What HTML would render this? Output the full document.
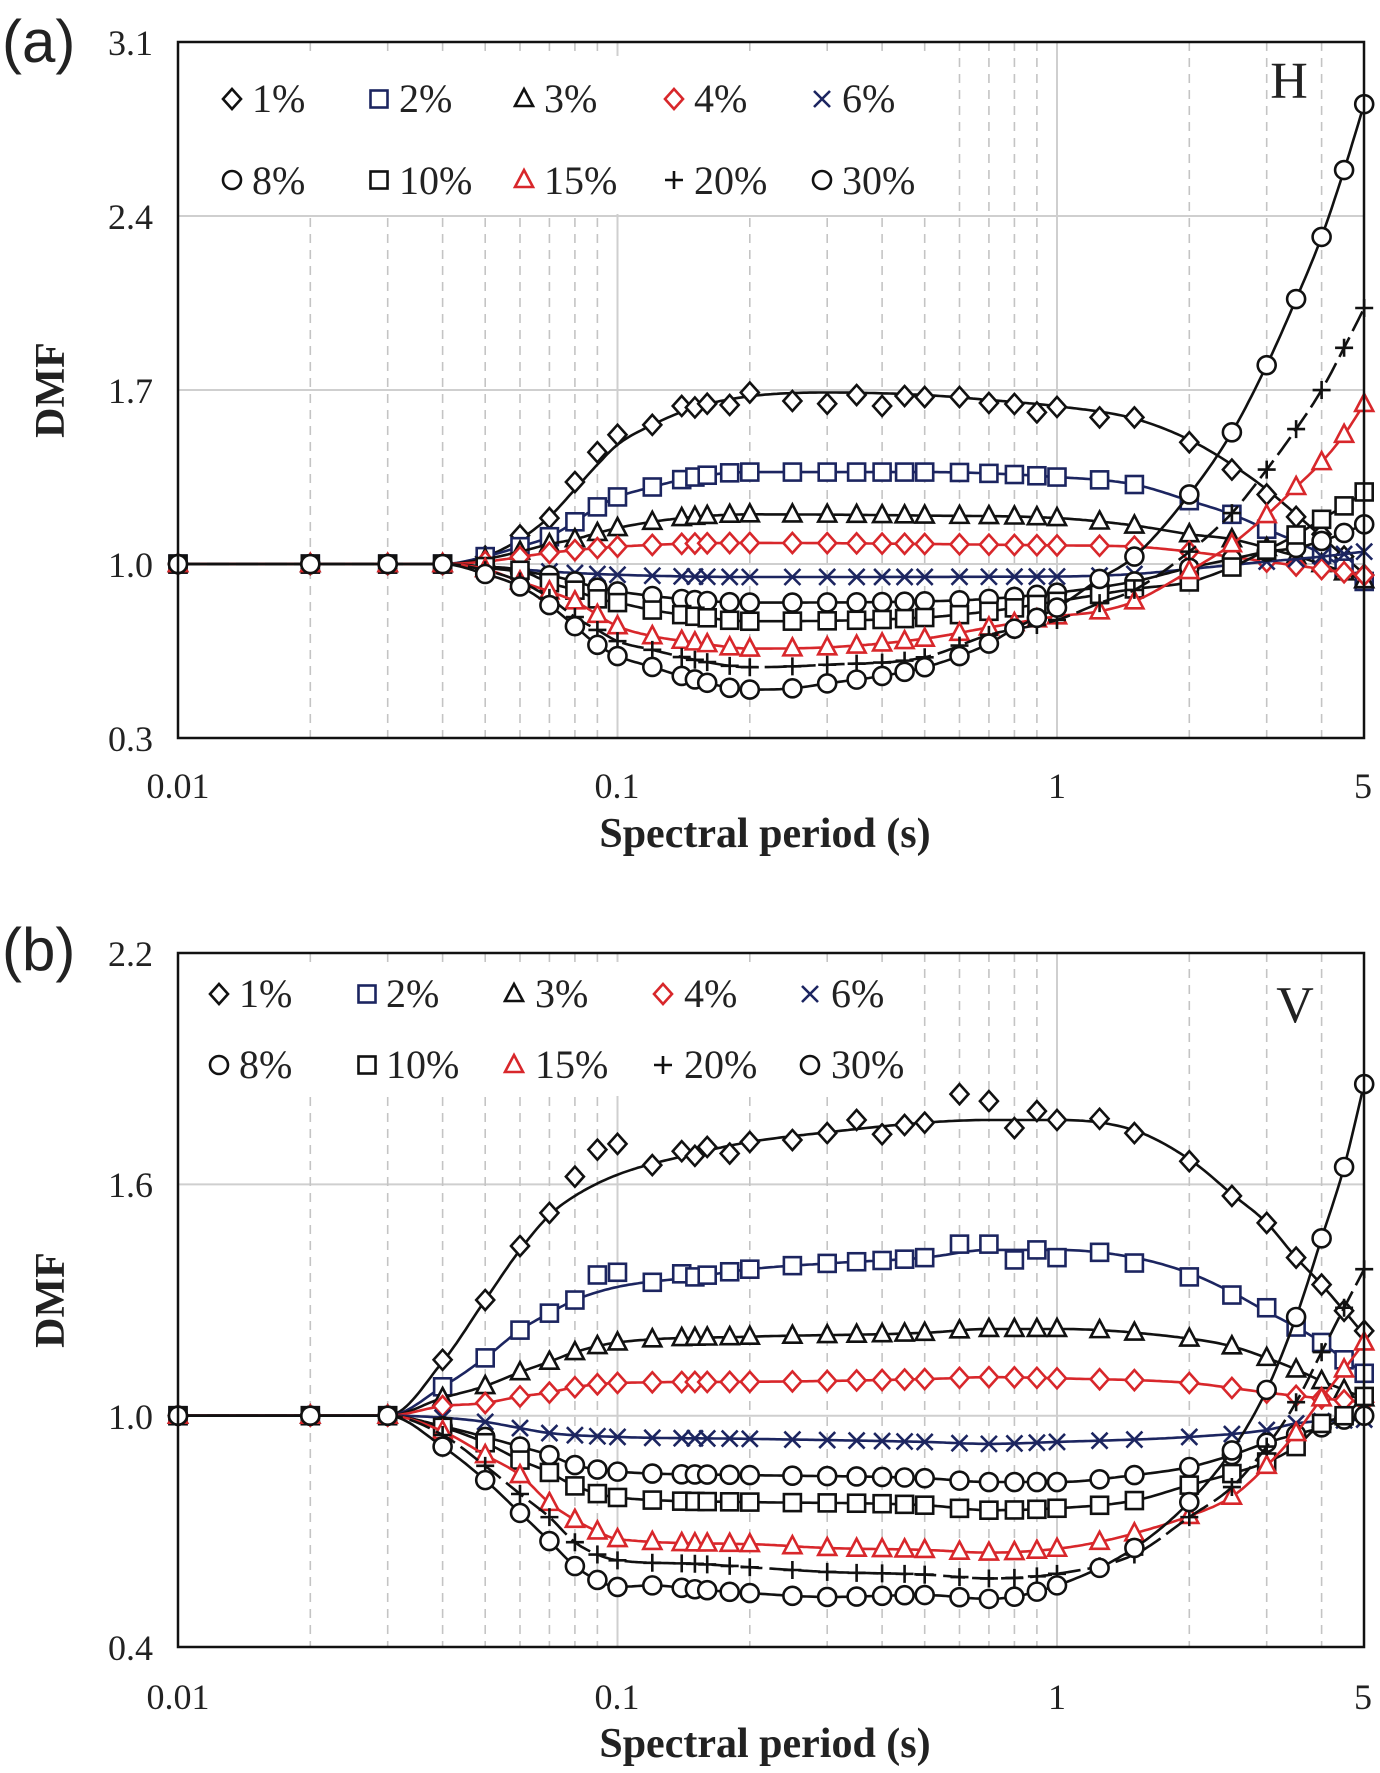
<!DOCTYPE html>
<html><head><meta charset="utf-8"><style>
html,body{margin:0;padding:0;background:#fff;}
svg{display:block;}
</style></head><body>
<svg id="svg" xmlns="http://www.w3.org/2000/svg" width="1380" height="1773" viewBox="0 0 1380 1773">
<rect width="1380" height="1773" fill="#fff"/>
<g id="grid"></g>
<g id="legbg"><rect x="181" y="56" width="758" height="158" fill="#fff"/><rect x="181" y="962" width="740" height="134" fill="#fff"/></g>
<g id="data"></g>
<g id="axes" fill="none" stroke="#111" stroke-width="2.5">
<rect x="178" y="42" width="1186" height="696"/>
<rect x="178" y="953" width="1186" height="694"/>
</g>
<text font-family="Liberation Sans, sans-serif" fill="#222" x="2" y="62" font-size="60">(a)</text>
<text font-family="Liberation Sans, sans-serif" fill="#222" x="2" y="970" font-size="60">(b)</text>
<g font-family="Liberation Serif, serif" fill="#222" font-size="36" text-anchor="end">
<text x="153" y="55">3.1</text><text x="153" y="229">2.4</text><text x="153" y="403">1.7</text><text x="153" y="577">1.0</text><text x="153" y="751">0.3</text>
<text x="153" y="966">2.2</text><text x="153" y="1197">1.6</text><text x="153" y="1429">1.0</text><text x="153" y="1660">0.4</text>
</g>
<g font-family="Liberation Serif, serif" fill="#222" font-size="36" text-anchor="middle">
<text x="178" y="798">0.01</text><text x="617" y="798">0.1</text><text x="1057" y="798">1</text><text x="1363" y="798">5</text>
<text x="178" y="1709">0.01</text><text x="617" y="1709">0.1</text><text x="1057" y="1709">1</text><text x="1363" y="1709">5</text>
</g>
<g font-family="Liberation Serif, serif" font-weight="bold" fill="#222" font-size="42" text-anchor="middle">
<text x="765" y="847">Spectral period (s)</text>
<text x="765" y="1757">Spectral period (s)</text>
<text transform="translate(64,390) rotate(-90)">DMF</text>
<text transform="translate(64,1300) rotate(-90)">DMF</text>
</g>
<g font-family="Liberation Serif, serif" fill="#222" font-size="52" text-anchor="middle">
<text x="1289" y="98">H</text>
<text x="1295" y="1022">V</text>
</g>
<g font-family="Liberation Serif, serif" fill="#222" font-size="40">
<text x="252" y="112">1%</text><text x="399" y="112">2%</text><text x="544" y="112">3%</text><text x="694" y="112">4%</text><text x="842" y="112">6%</text>
<text x="252" y="194">8%</text><text x="399" y="194">10%</text><text x="544" y="194">15%</text><text x="694" y="194">20%</text><text x="842" y="194">30%</text>
<text x="239" y="1007">1%</text><text x="386" y="1007">2%</text><text x="535" y="1007">3%</text><text x="684" y="1007">4%</text><text x="831" y="1007">6%</text>
<text x="239" y="1078">8%</text><text x="386" y="1078">10%</text><text x="535" y="1078">15%</text><text x="684" y="1078">20%</text><text x="831" y="1078">30%</text>
</g>
<g id="leg"></g>
</svg>
<script>
(function(){
var NS="http://www.w3.org/2000/svg";
function el(tag,attrs,parent){var e=document.createElementNS(NS,tag);for(var k in attrs)e.setAttribute(k,attrs[k]);parent.appendChild(e);return e;}
function X(T){return 178+439.5*(Math.log10(T)+2);}
var panels=[{top:42,bot:738,vmax:3.1,scale:248.6,grid:[2.4,1.7,1.0]},{top:953,bot:1647,vmax:2.2,scale:385.6,grid:[1.6,1.0]}];
function Yf(p){return function(v){return p.top+(p.vmax-v)*p.scale;};}
var grid=document.getElementById('grid');
var vt=[0.02,0.03,0.04,0.05,0.06,0.07,0.08,0.09,0.2,0.3,0.4,0.5,0.6,0.7,0.8,0.9,2,3,4];
panels.forEach(function(p){
  var Y=Yf(p);
  p.grid.forEach(function(v){el('line',{x1:178,x2:1364,y1:Y(v),y2:Y(v),stroke:'#cfcfcf','stroke-width':2},grid);});
  vt.forEach(function(t){el('line',{x1:X(t),x2:X(t),y1:p.top,y2:p.bot,stroke:'#c4c4c4','stroke-width':1.6,'stroke-dasharray':'9,7'},grid);});
  [0.1,1].forEach(function(t){el('line',{x1:X(t),x2:X(t),y1:p.top,y2:p.bot,stroke:'#cfcfcf','stroke-width':2},grid);});
});
function mono(pts){
  var n=pts.length,xs=pts.map(function(a){return a[0]}),ys=pts.map(function(a){return a[1]});
  var d=[],m=[];
  for(var i=0;i<n-1;i++)d.push((ys[i+1]-ys[i])/(xs[i+1]-xs[i]));
  m[0]=d[0];m[n-1]=d[n-2];
  for(i=1;i<n-1;i++){ if(d[i-1]*d[i]<=0)m[i]=0; else m[i]=(d[i-1]+d[i])/2; }
  for(i=0;i<n-1;i++){ if(d[i]===0){m[i]=0;m[i+1]=0;continue;} var a=m[i]/d[i],b=m[i+1]/d[i],s=a*a+b*b; if(s>9){var tt=3/Math.sqrt(s);m[i]=tt*a*d[i];m[i+1]=tt*b*d[i];} }
  return function(x){
    if(x<=xs[0])return ys[0]; if(x>=xs[n-1])return ys[n-1];
    var k=0;while(x>xs[k+1])k++;
    var h=xs[k+1]-xs[k],t=(x-xs[k])/h,t2=t*t,t3=t2*t;
    return (2*t3-3*t2+1)*ys[k]+(t3-2*t2+t)*h*m[k]+(-2*t3+3*t2)*ys[k+1]+(t3-t2)*h*m[k+1];
  };
}
function parse(o){var a=[];for(var k in o)a.push([Math.log10(parseFloat(k)),o[k]]);a.sort(function(p,q){return p[0]-q[0]});if(a[0][0]>-2)a.unshift([-2,1]);return a;}
var NAVY='#1c2560',RED='#d8272b',BLK='#111';
var P=[0.01,0.02,0.03,0.04,0.05,0.06,0.07,0.08,0.09,0.1,0.12,0.14,0.15,0.16,0.18,0.2,0.25,0.3,0.35,0.4,0.45,0.5,0.6,0.7,0.8,0.9,1,1.25,1.5,2,2.5,3,3.5,4,4.5,5];
function marker(type,x,y,col,g){
  var sw=2.6,f='#fff';
  if(type=='d')el('polygon',{points:[x,y-10,x+9,y,x,y+10,x-9,y].join(' '),fill:f,stroke:col,'stroke-width':sw},g);
  else if(type=='s')el('rect',{x:x-8.5,y:y-8.5,width:17,height:17,fill:f,stroke:col,'stroke-width':sw},g);
  else if(type=='t')el('polygon',{points:[x,y-10,x+9,y+7,x-9,y+7].join(' '),fill:f,stroke:col,'stroke-width':sw},g);
  else if(type=='c')el('circle',{cx:x,cy:y,r:9,fill:f,stroke:col,'stroke-width':sw},g);
  else if(type=='x'){el('path',{d:'M'+(x-8)+' '+(y-8)+'L'+(x+8)+' '+(y+8)+'M'+(x+8)+' '+(y-8)+'L'+(x-8)+' '+(y+8),stroke:col,'stroke-width':sw,fill:'none'},g);}
  else if(type=='p'){el('path',{d:'M'+(x-9)+' '+y+'L'+(x+9)+' '+y+'M'+x+' '+(y-9)+'L'+x+' '+(y+9),stroke:col,'stroke-width':sw,fill:'none'},g);}
}
var S=[['d',BLK],['s',NAVY],['t',BLK],['d',RED],['x',NAVY],['c',BLK],['s',BLK],['t',RED],['p',BLK],['c',BLK]];
var A=[
 {0.04:1,0.05:1.03,0.06:1.1,0.07:1.19,0.08:1.3,0.09:1.4,0.1:1.48,0.12:1.56,0.15:1.63,0.2:1.675,0.3:1.69,0.5:1.68,0.7:1.66,1:1.635,1.5:1.585,2:1.5,2.5:1.4,3:1.3,3.5:1.2,4:1.11,4.5:1.03,5:0.96},
 {0.04:1,0.05:1.03,0.06:1.07,0.07:1.11,0.08:1.17,0.09:1.23,0.1:1.27,0.12:1.31,0.15:1.35,0.2:1.37,0.5:1.37,1:1.35,1.5:1.32,2:1.255,2.5:1.2,3:1.14,3.5:1.09,4:1.04,5:0.93},
 {0.04:1,0.05:1.02,0.06:1.05,0.07:1.08,0.08:1.1,0.09:1.125,0.1:1.145,0.12:1.17,0.15:1.19,0.2:1.2,0.5:1.195,1:1.185,1.5:1.155,2:1.12,2.5:1.1,3:1.065,4:1.0,5:0.935},
 {0.04:1,0.05:1.01,0.07:1.045,0.1:1.07,0.2:1.085,1:1.075,1.5:1.07,2:1.05,3:1.01,4:0.98,5:0.955},
 {0.04:1,0.05:0.99,0.07:0.97,0.1:0.957,0.2:0.948,1:0.95,1.5:0.96,2:0.98,3:1.01,4:1.03,5:1.05},
 {0.04:1,0.05:0.985,0.06:0.97,0.07:0.955,0.08:0.93,0.09:0.905,0.1:0.89,0.15:0.855,0.2:0.845,0.5:0.85,0.7:0.86,1:0.885,1.5:0.93,2:0.985,2.5:1.02,3:1.05,3.5:1.065,4:1.093,4.5:1.125,5:1.16},
 {0.04:1,0.05:0.99,0.06:0.975,0.07:0.925,0.08:0.895,0.09:0.86,0.1:0.845,0.12:0.815,0.15:0.79,0.2:0.77,0.5:0.785,0.7:0.81,1:0.85,1.5:0.9,2:0.928,2.5:0.988,3:1.056,3.5:1.117,4:1.18,4.5:1.234,5:1.29},
 {0.04:1,0.05:0.98,0.06:0.93,0.07:0.89,0.08:0.85,0.1:0.75,0.12:0.71,0.15:0.685,0.2:0.66,0.3:0.665,0.5:0.7,0.7:0.745,1:0.79,1.25:0.81,1.5:0.85,2:0.972,2.5:1.08,3:1.197,3.5:1.31,4:1.41,4.5:1.52,5:1.644},
 {0.04:1,0.05:0.975,0.06:0.93,0.07:0.864,0.08:0.787,0.09:0.735,0.1:0.69,0.12:0.655,0.15:0.615,0.2:0.585,0.3:0.595,0.5:0.625,0.7:0.715,1:0.775,1.25:0.843,1.5:0.896,2:1.05,2.5:1.205,3:1.38,3.5:1.543,4:1.70,4.5:1.87,5:2.03},
 {0.04:1,0.05:0.96,0.06:0.91,0.07:0.835,0.08:0.75,0.09:0.675,0.1:0.63,0.12:0.586,0.14:0.55,0.2:0.495,0.25:0.5,0.3:0.52,0.4:0.55,0.5:0.585,0.6:0.63,0.7:0.68,0.8:0.74,1:0.825,1.25:0.94,1.5:1.03,2:1.28,2.5:1.53,3:1.8,3.5:2.066,4:2.316,4.5:2.585,5:2.85}
];
var Aov=[{0.06:1.115,0.07:1.185,0.08:1.33,0.09:1.45,0.1:1.52,0.12:1.56,0.14:1.636,0.15:1.63,0.16:1.645,0.18:1.64,0.2:1.69,0.25:1.656,0.3:1.645,0.35:1.68,0.4:1.636,0.45:1.676,0.5:1.672,0.6:1.672,0.7:1.648,0.8:1.644,0.9:1.61,1:1.632,1.25:1.59,1.5:1.59,2:1.49,2.5:1.38,3:1.28,3.5:1.19,4:1.12,5:0.956}];
var B=[
 {0.03:1,0.04:1.14,0.05:1.3,0.06:1.43,0.07:1.52,0.08:1.57,0.1:1.625,0.15:1.68,0.2:1.71,0.3:1.735,0.5:1.76,0.7:1.767,1:1.767,1.5:1.74,2:1.665,2.5:1.575,3:1.5,3.5:1.41,4:1.34,5:1.21},
 {0.03:1,0.04:1.075,0.05:1.15,0.06:1.222,0.07:1.266,0.08:1.3,0.1:1.334,0.15:1.36,0.2:1.38,0.3:1.395,0.5:1.41,0.7:1.43,1:1.43,1.5:1.41,2:1.37,2.5:1.32,3:1.27,3.5:1.23,4:1.19,4.5:1.145,5:1.11},
 {0.03:1,0.04:1.046,0.05:1.077,0.06:1.113,0.07:1.14,0.08:1.165,0.1:1.19,0.2:1.205,0.5:1.215,0.7:1.225,1:1.225,2:1.2,2.5:1.18,3:1.15,3.5:1.12,4:1.09,4.5:1.067,5:1.045},
 {0.03:1,0.04:1.025,0.05:1.033,0.06:1.05,0.07:1.06,0.08:1.074,0.1:1.085,0.2:1.088,0.5:1.095,0.7:1.1,1:1.097,2:1.085,2.5:1.072,3:1.06,4:1.045,5:1.035},
 {0.03:1,0.04:0.995,0.05:0.984,0.06:0.968,0.07:0.955,0.1:0.945,0.2:0.94,0.5:0.932,0.7:0.927,1:0.932,2:0.945,3:0.963,3.5:0.98,5:0.99},
 {0.03:1,0.04:0.973,0.05:0.945,0.06:0.92,0.07:0.898,0.08:0.872,0.1:0.855,0.2:0.846,0.5:0.838,0.7:0.828,1:0.828,1.5:0.846,2:0.867,2.5:0.898,3:0.93,4:0.97,4.5:0.99,5:1.0},
 {0.03:1,0.04:0.97,0.05:0.93,0.06:0.885,0.07:0.853,0.08:0.818,0.1:0.788,0.2:0.776,0.5:0.768,0.7:0.755,1:0.76,1.5:0.78,2:0.82,2.5:0.85,3:0.88,3.5:0.92,4:0.98,4.5:1.0,5:1.05},
 {0.03:1,0.04:0.96,0.05:0.898,0.06:0.846,0.07:0.774,0.08:0.73,0.09:0.70,0.1:0.68,0.2:0.667,0.3:0.657,0.5:0.652,0.7:0.645,1:0.655,1.25:0.673,1.5:0.695,2:0.74,2.5:0.79,3:0.87,3.5:0.955,4:1.045,4.5:1.12,5:1.19},
 {0.03:1,0.04:0.95,0.05:0.87,0.06:0.797,0.07:0.737,0.08:0.672,0.09:0.64,0.1:0.625,0.15:0.616,0.2:0.607,0.3:0.595,0.5:0.588,0.7:0.578,1:0.59,1.5:0.64,2:0.737,2.5:0.815,3:0.92,3.5:1.035,4:1.165,4.5:1.28,5:1.38},
 {0.03:1,0.04:0.92,0.05:0.833,0.06:0.748,0.07:0.675,0.08:0.61,0.09:0.574,0.1:0.556,0.12:0.56,0.15:0.55,0.2:0.54,0.3:0.53,0.5:0.535,0.7:0.525,1:0.56,1.5:0.657,2:0.776,2.5:0.91,3:1.067,3.5:1.256,4:1.46,4.5:1.645,5:1.86}
];
var Bov=[{0.04:1.145,0.05:1.30,0.06:1.44,0.07:1.526,0.08:1.62,0.09:1.69,0.1:1.705,0.12:1.65,0.14:1.686,0.15:1.674,0.16:1.697,0.18:1.68,0.2:1.71,0.25:1.715,0.3:1.733,0.35:1.767,0.4:1.73,0.45:1.754,0.5:1.76,0.6:1.834,0.7:1.816,0.8:1.746,0.9:1.79,1:1.767,1.25:1.77,1.5:1.733,2:1.66,2.5:1.57,3:1.5,3.5:1.41,4:1.34,5:1.22},
 {0.09:1.365,0.1:1.372,0.12:1.346,0.14:1.368,0.6:1.445,0.7:1.445,0.8:1.404,0.9:1.43,1:1.41,1.5:1.396,2:1.36,2.5:1.313,3:1.28}];
var data=document.getElementById('data');
[[A,Aov,panels[0]],[B,Bov,panels[1]]].forEach(function(q){
  var Y=Yf(q[2]);
  q[0].forEach(function(anc,i){
    var f=mono(parse(anc)),col=S[i][1],g=el('g',{},data),d='';
    for(var j=0;j<=400;j++){var lx=-2+j*(Math.log10(5)+2)/400;d+=(j?'L':'M')+X(Math.pow(10,lx)).toFixed(1)+' '+Y(f(lx)).toFixed(1);}
    var la={d:d,fill:'none',stroke:col,'stroke-width':2.6};
    if(i==8)la['stroke-dasharray']='22,7';
    el('path',la,g);
    var ov=q[1][i]||{};
    P.forEach(function(t){var v=(ov[t]!==undefined)?ov[t]:f(Math.log10(t));marker(S[i][0],X(t),Y(v),col,g);});
  });
});
var leg=document.getElementById('leg');
var xa=[232,379,524,674,822],xb=[219,367,514,663,810];
for(var i=0;i<10;i++){
  var r=Math.floor(i/5),c=i%5;
  marker(S[i][0],xa[c],r?180:99,S[i][1],leg);
  marker(S[i][0],xb[c],r?1065:994,S[i][1],leg);
}
})();
</script>
</body></html>
